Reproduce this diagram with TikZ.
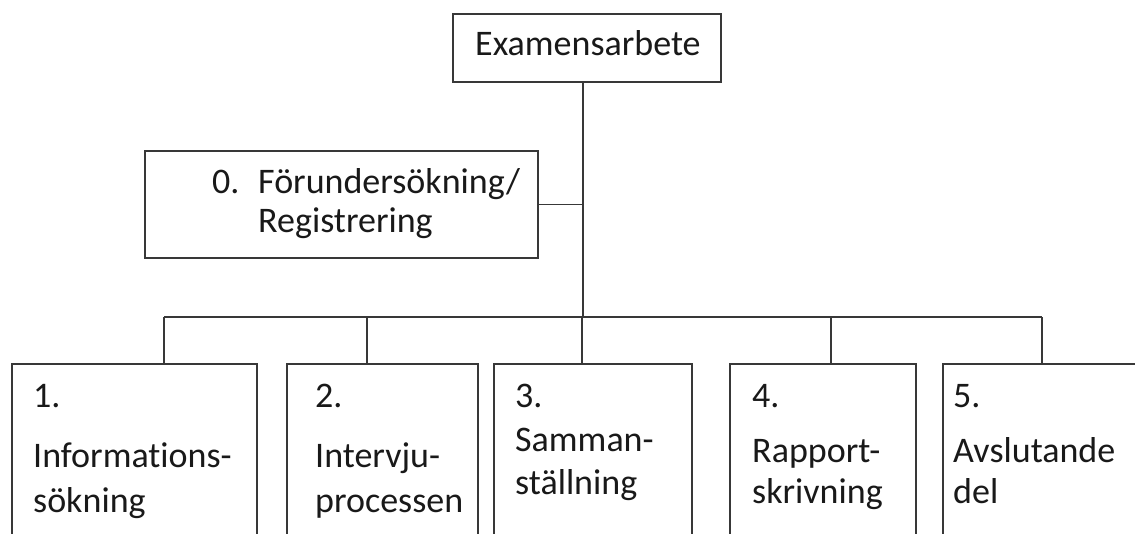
\documentclass[tikz,border=0pt]{standalone}
\usepackage{fontspec}
\setmainfont[Ligatures={NoCommon}]{Carlito}
\begin{document}
\begin{tikzpicture}[x=1pt,y=-1pt,
  box/.style={draw=black!78, line width=1.6pt, rectangle, inner sep=0pt, fill=white},
  conn/.style={draw=black!78, line width=1.6pt},
  lbl/.style={anchor=base west, inner sep=0pt, text=black!90, font=\fontsize{36}{40}\selectfont}]
\clip (0,0) rectangle (1135,533);
\fill[white] (0,0) rectangle (1135,533);
% boxes
\node[box, minimum width=268pt, minimum height=68pt] (top) at (587,48) {};
\node[box, minimum width=393pt, minimum height=107pt] (b0) at (341.5,204.5) {};
\node[box, minimum width=245pt, minimum height=196pt] (b1) at (134.5,462) {};
\node[box, minimum width=191pt, minimum height=196pt] (b2) at (382.5,462) {};
\node[box, minimum width=198pt, minimum height=196pt] (b3) at (593,462) {};
\node[box, minimum width=186pt, minimum height=196pt] (b4) at (823,462) {};
\node[box, minimum width=207pt, minimum height=196pt] (b5) at (1046.5,462) {};
% connector points
\coordinate (bus) at (583,317);
\coordinate (d1) at (164,317);
\coordinate (d2) at (367,317);
\coordinate (d3) at (582,317);
\coordinate (d4) at (831,317);
\coordinate (d5) at (1042,317);
\draw[conn] (top.south -| bus) -- (bus);
\draw[conn] (b0.east) -- (b0.east -| bus);
\draw[conn] (d1) -- (d5);
\draw[conn] (d1) -- (d1 |- b1.north);
\draw[conn] (d2) -- (d2 |- b2.north);
\draw[conn] (d3) -- (d3 |- b3.north);
\draw[conn] (d4) -- (d4 |- b4.north);
\draw[conn] (d5) -- (d5 |- b5.north);
% texts
\node[lbl] (ttop) at (475,55) {Examensarbete};
\node[lbl] (t0n) at (212,193) {0.};
\node[lbl] (t0a) at (258,193) {Förundersökning/};
\node[lbl] (t0b) at (258,232) {Registrering};
\node[lbl] (t1n) at (33,407) {1.};
\node[lbl] (t1a) at (33,467) {Informations-};
\node[lbl] (t1b) at (33,512) {sökning};
\node[lbl] (t2n) at (315,407) {2.};
\node[lbl] (t2a) at (315,467) {Intervju-};
\node[lbl] (t2b) at (315,512) {processen};
\node[lbl] (t3n) at (515,407) {3.};
\node[lbl] (t3a) at (515,451) {Samman-};
\node[lbl] (t3b) at (515,494) {ställning};
\node[lbl] (t4n) at (752,407) {4.};
\node[lbl] (t4a) at (752,462) {Rapport-};
\node[lbl] (t4b) at (752,503) {skrivning};
\node[lbl] (t5n) at (953,407) {5.};
\node[lbl] (t5a) at (953,462) {Avslutande};
\node[lbl] (t5b) at (953,503) {del};
\end{tikzpicture}
\end{document}
